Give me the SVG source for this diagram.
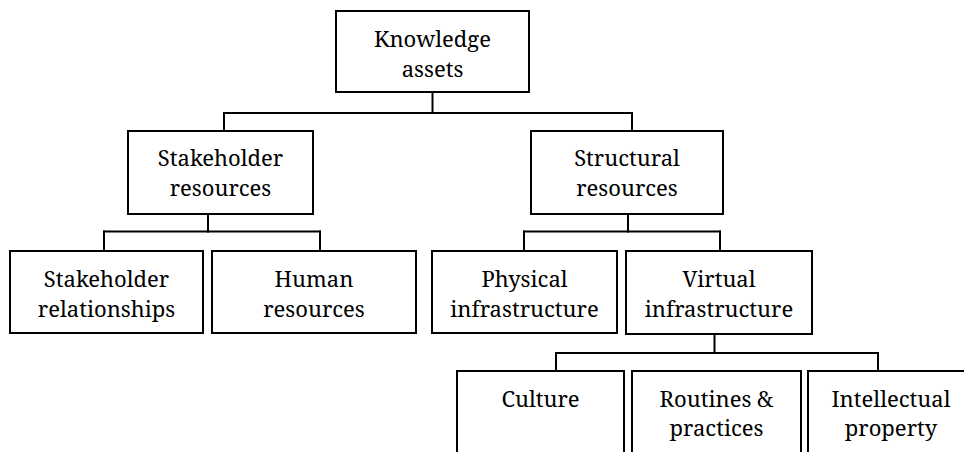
<svg xmlns="http://www.w3.org/2000/svg" width="964" height="452" viewBox="0 0 964 452">
<style>
rect.box{fill:#fff;stroke:#000;stroke-width:2}
.c line{stroke:#000;stroke-width:2;stroke-linecap:square}
.t text{font-family:"Noto Serif","DejaVu Serif",serif;font-size:22px;fill:#000;text-anchor:middle}
</style>
<rect width="964" height="452" fill="#fff"/>
<g class="c" id="connectors">
<line x1="432.5" y1="92" x2="432.5" y2="113"/>
<line x1="224" y1="113" x2="632" y2="113"/>
<line x1="224" y1="113" x2="224" y2="131"/>
<line x1="632" y1="113" x2="632" y2="131"/>
<line x1="208" y1="214" x2="208" y2="231.5"/>
<line x1="104" y1="231.5" x2="320" y2="231.5"/>
<line x1="104" y1="231.5" x2="104" y2="251"/>
<line x1="320" y1="231.5" x2="320" y2="251"/>
<line x1="628" y1="214" x2="628" y2="231.5"/>
<line x1="524" y1="231.5" x2="720" y2="231.5"/>
<line x1="524" y1="231.5" x2="524" y2="251"/>
<line x1="720" y1="231.5" x2="720" y2="251"/>
<line x1="714.5" y1="334" x2="714.5" y2="353"/>
<line x1="556" y1="353" x2="878" y2="353"/>
<line x1="556" y1="353" x2="556" y2="371"/>
<line x1="878" y1="353" x2="878" y2="371"/>
</g>
<g class="t">
<g id="knowledge-assets"><rect class="box" x="336" y="11" width="193" height="81"/><text x="432.5" y="47">Knowledge</text><text x="432.5" y="77">assets</text></g>
<g id="stakeholder-resources"><rect class="box" x="128" y="131" width="185" height="83"/><text x="220.5" y="166">Stakeholder</text><text x="220.5" y="196">resources</text></g>
<g id="structural-resources"><rect class="box" x="531" y="131" width="192" height="83"/><text x="627" y="166">Structural</text><text x="627" y="196">resources</text></g>
<g id="stakeholder-relationships"><rect class="box" x="10" y="251" width="193" height="82"/><text x="106.5" y="286.5">Stakeholder</text><text x="106.5" y="316.5">relationships</text></g>
<g id="human-resources"><rect class="box" x="212" y="251" width="204" height="82"/><text x="314" y="286.5">Human</text><text x="314" y="316.5">resources</text></g>
<g id="physical-infrastructure"><rect class="box" x="432" y="251" width="185" height="82"/><text x="524.5" y="286.5">Physical</text><text x="524.5" y="316.5">infrastructure</text></g>
<g id="virtual-infrastructure"><rect class="box" x="626" y="251" width="186" height="83"/><text x="719" y="286.5">Virtual</text><text x="719" y="316.5">infrastructure</text></g>
<g id="culture"><rect class="box" x="457" y="371" width="167" height="100"/><text x="540.5" y="407">Culture</text></g>
<g id="routines-practices"><rect class="box" x="632" y="371" width="169" height="100"/><text x="716.5" y="407">Routines &amp;</text><text x="716.5" y="436">practices</text></g>
<g id="intellectual-property"><rect class="box" x="808" y="371" width="166" height="100"/><text x="891" y="407">Intellectual</text><text x="891" y="436">property</text></g>
</g>
</svg>
